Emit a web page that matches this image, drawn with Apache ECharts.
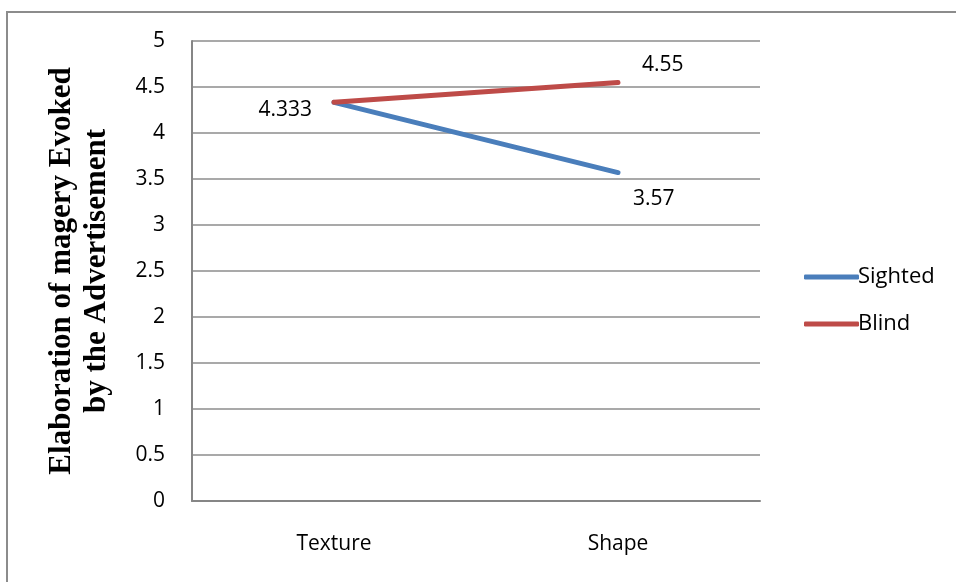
<!DOCTYPE html>
<html>
<head>
<meta charset="utf-8">
<script src="https://cdn.jsdelivr.net/npm/echarts@6/dist/echarts.min.js"></script>
<style>
  html, body { margin: 0; padding: 0; background: #fff; }
  #chart { width: 956px; height: 582px; }
</style>
</head>
<body>
<div id="chart"></div>
<script>
// Category names along the horizontal axis
const categories = ['Texture', 'Shape'];
// Mean elaboration scores per group
const sightedValues = [4.333, 3.57];
const blindValues = [4.333, 4.55];
// Axis range
const yMin = 0, yMax = 5, yStep = 0.5;

const labelFont = { fontFamily: 'Open Sans', fontSize: 21, color: '#000' };

// Per-point label placement: [position, offset]
const sightedLabels = [null, ['right', [10, 26]]];
const blindLabels = [['left', [-17, 8]], ['right', [19, -17]]];

function pointData(values, placements) {
  return values.map((v, i) => {
    const p = placements[i];
    if (!p) return { value: v, label: { show: false } };
    return { value: v, label: { show: true, position: p[0], offset: p[1] } };
  });
}

const chart = echarts.init(document.getElementById('chart'), null, { renderer: 'canvas' });
chart.setOption({
  backgroundColor: '#fff',
  animation: false,
  graphic: [{
    type: 'rect',
    shape: { x: 7, y: 12, width: 1000, height: 700 },
    style: { fill: 'none', stroke: '#8c8c8c', lineWidth: 2 },
    z: -1
  }],
  grid: { left: 192, top: 41, width: 568, height: 460, containLabel: false, outerBoundsMode: 'none' },
  legend: {
    orient: 'vertical',
    left: 799,
    top: 261,
    itemWidth: 55,
    itemHeight: 5,
    itemGap: 25,
    icon: 'roundRect',
    textStyle: Object.assign({}, labelFont, { fontSize: 22, padding: [0, 0, 0, -6] }),
    itemStyle: { borderWidth: 0 },
    data: ['Sighted', 'Blind']
  },
  xAxis: {
    type: 'category',
    data: categories,
    boundaryGap: true,
    axisLine: { lineStyle: { color: '#868686', width: 2 } },
    axisTick: { show: false },
    axisLabel: Object.assign({}, labelFont, { margin: 33 })
  },
  yAxis: {
    type: 'value',
    min: yMin, max: yMax, interval: yStep,
    name: 'Elaboration of magery Evoked\nby the Advertisement',
    nameLocation: 'middle',
    nameGap: 78,
    nameRotate: 90,
    nameTextStyle: {
      fontFamily: 'Liberation Serif', fontWeight: 'bold', fontSize: 31,
      color: '#000', lineHeight: 35
    },
    axisLine: { show: true, lineStyle: { color: '#868686', width: 2 } },
    axisTick: { show: false },
    splitLine: { lineStyle: { color: '#8c8c8c', width: 1.5 } },
    axisLabel: Object.assign({}, labelFont, { margin: 27, formatter: v => String(v) })
  },
  series: [
    {
      name: 'Sighted',
      type: 'line',
      data: pointData(sightedValues, sightedLabels),
      symbol: 'circle',
      symbolSize: 0.01,
      showSymbol: true,
      lineStyle: { color: '#4a7ebb', width: 5, cap: 'round' },
      itemStyle: { color: '#4a7ebb' },
      z: 2,
      label: Object.assign({ show: true, formatter: p => String(p.value) }, labelFont)
    },
    {
      name: 'Blind',
      type: 'line',
      data: pointData(blindValues, blindLabels),
      symbol: 'circle',
      symbolSize: 0.01,
      showSymbol: true,
      lineStyle: { color: '#be4b48', width: 5, cap: 'round' },
      itemStyle: { color: '#be4b48' },
      z: 3,
      label: Object.assign({ show: true, formatter: p => String(p.value) }, labelFont)
    }
  ]
});
</script>
</body>
</html>
